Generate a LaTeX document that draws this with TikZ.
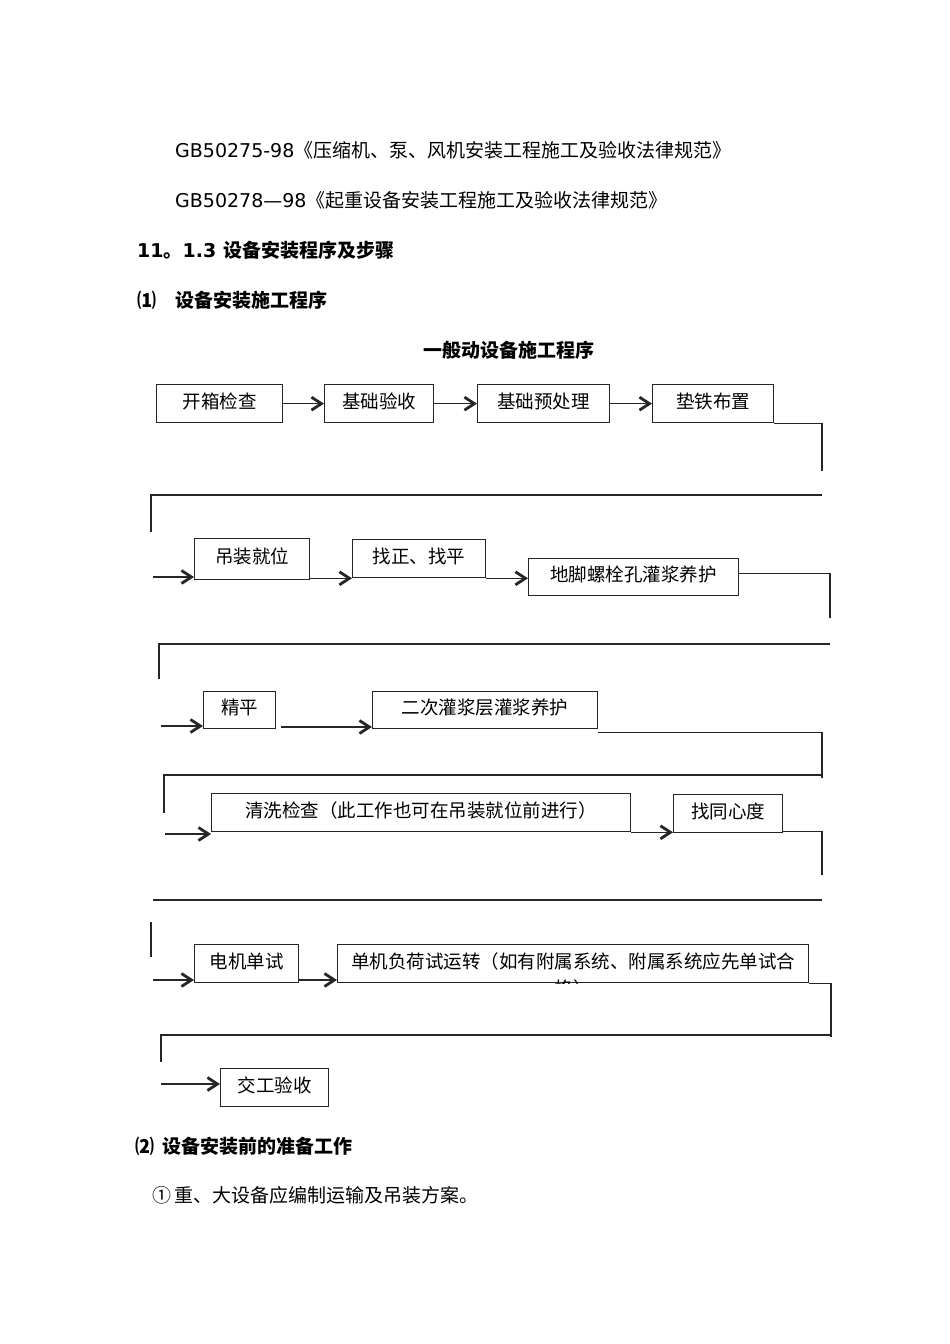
\documentclass[tikz,border=0pt]{standalone}
\usepackage{fontspec}
\setmainfont{DejaVu Sans}
\newfontfamily\cjk{Noto Sans CJK SC}
\newfontfamily\dv{DejaVu Sans}
\usetikzlibrary{arrows.meta,calc}
\tikzset{
  box/.style={draw=black!85, line width=1.3pt, anchor=north west, inner sep=0pt,
    text height=15.5pt, text depth=6pt, font=\cjk\fontsize{18.5}{22}\selectfont},
  conn/.style={line width=1.3pt, draw=black!85},
  arr/.style={conn, -{Straight Barb[length=10pt,width=13pt,line width=2.8pt]}},
  body/.style={anchor=base west, inner sep=0pt, font=\fontsize{19}{23}\selectfont},
}
\begin{document}
\begin{tikzpicture}[x=1pt,y=-1pt]
\useasboundingbox (0,0) rectangle (950,1344);
\fill[white] (0,0) rectangle (950,1344);

% ---- body text ----
\node[body] (l1) at (175,157) {{\dv GB50275-98}{\cjk《压缩机、泵、风机安装工程施工及验收法律规范》}};
\node[body] (l2) at (175,207) {{\dv GB50278—98}{\cjk《起重设备安装工程施工及验收法律规范》}};
\node[body] (h1n) at (137,257) {{\dv\bfseries 11}{\cjk\bfseries 。}{\dv\bfseries 1.3}};
\node[body] (h1t) at (223,257) {\cjk\bfseries 设备安装程序及步骤};
\node[body] (h2n) at (137,307) {\cjk\bfseries ⑴};
\node[body] (h2t) at (175,307) {\cjk\bfseries 设备安装施工程序};
\node[body] (title) at (423,357) {\cjk\bfseries 一般动设备施工程序};
\node[body] (h3n) at (135,1153) {\cjk\bfseries ⑵};
\node[body] (h3t) at (162,1153) {\cjk\bfseries 设备安装前的准备工作};
\node[body] (i1n) at (152,1202) {\cjk ①};
\node[body] (i1t) at (174,1202) {\cjk 重、大设备应编制运输及吊装方案。};

% ---- boxes ----
\node[box, minimum width=126pt, minimum height=38pt] (b1) at (156,384) {开箱检查};
\node[box, minimum width=109pt, minimum height=38pt] (b2) at (324,384) {基础验收};
\node[box, minimum width=132pt, minimum height=38pt] (b3) at (477,384) {基础预处理};
\node[box, minimum width=121pt, minimum height=38pt] (b4) at (652,384) {垫铁布置};
\node[box, minimum width=115pt, minimum height=41pt] (b5) at (194,538) {吊装就位};
\node[box, minimum width=133pt, minimum height=38pt] (b6) at (352,539) {找正、找平};
\node[box, minimum width=210pt, minimum height=37pt] (b7) at (528,558) {地脚螺栓孔灌浆养护};
\node[box, minimum width=72pt, minimum height=37pt] (b8) at (203,691) {精平};
\node[box, minimum width=225pt, minimum height=37pt] (b9) at (372,691) {二次灌浆层灌浆养护};
\node[box, minimum width=419pt, minimum height=38pt] (b10) at (211,793) {清洗检查（此工作也可在吊装就位前进行）};
\node[box, minimum width=109pt, minimum height=38pt] (b11) at (673,794) {找同心度};
\node[box, minimum width=104pt, minimum height=38pt] (b12) at (194,944) {电机单试};
\node[box, minimum width=471pt, minimum height=38pt] (b13) at (337,944) {单机负荷试运转（如有附属系统、附属系统应先单试合};
\begin{scope}
  \clip (b13.north west) rectangle (b13.south east);
  \node[anchor=north, inner sep=0pt, font=\cjk\fontsize{18.5}{22}\selectfont] (b13x) at ($(b13.south)+(0,-4)$) {格）};
\end{scope}
\node[box, minimum width=108pt, minimum height=38pt] (b14) at (220,1068) {交工验收};

% ---- free ends ----
\coordinate (t1) at (822,471);
\coordinate (h1r) at (822,495); \coordinate (h1l) at (151,495); \coordinate (v1b) at (151,532);
\coordinate (s2) at (153,577);
\coordinate (t2) at (830,618);
\coordinate (h2r) at (830,644); \coordinate (h2l) at (159,644); \coordinate (v2b) at (159,679);
\coordinate (s3) at (161,726); \coordinate (s3b) at (281,727);
\coordinate (t3) at (822,778);
\coordinate (h3r) at (822,775); \coordinate (h3l) at (164,775); \coordinate (v3b) at (164,813);
\coordinate (s4) at (165,834);
\coordinate (t4) at (822,875);
\coordinate (h4r) at (822,900); \coordinate (h4l) at (153,900);
\coordinate (v4t) at (151,922); \coordinate (v4b) at (151,957);
\coordinate (s5) at (153,980);
\coordinate (t5) at (831,1037);
\coordinate (h5r) at (831,1035); \coordinate (h5l) at (161,1035); \coordinate (v5b) at (161,1062);
\coordinate (s6) at (161,1084);

% ---- connectors ----
\draw[arr] (b1.east) -- (b2.west);
\draw[arr] (b2.east) -- (b3.west);
\draw[arr] (b3.east) -- (b4.west);
\draw[conn] (b4.south east) -| (t1);
\draw[conn] (h1r) -- (h1l) -- (v1b);

\draw[arr] (s2) -- (s2 -| b5.west);
\draw[arr] (b5.east |- b6.south) -- (b6.south west);
\draw[arr] (b6.south east) -- (b6.south east -| b7.west);
\draw[conn] ($(b7.east)+(0,-3.5)$) -| (t2);
\draw[conn] (h2r) -- (h2l) -- (v2b);

\draw[arr] (s3) -- (s3 -| b8.west);
\draw[arr] (s3b) -- (s3b -| b9.west);
\draw[conn] ($(b9.south east)+(0,3)$) -| (t3);
\draw[conn] (h3r) -- (h3l) -- (v3b);

\draw[arr] (s4) -- (s4 -| b10.west);
\draw[arr] (b10.south east) -- (b10.south east -| b11.west);
\draw[conn] ($(b11.south east)+(0,-2)$) -| (t4);
\draw[conn] (h4r) -- (h4l);
\draw[conn] (v4t) -- (v4b);

\draw[arr] (s5) -- (s5 -| b12.west);
\draw[arr] (b12.east |- s5) -- (s5 -| b13.west);
\draw[conn] (b13.south east) -| (t5);
\draw[conn] (h5r) -- (h5l) -- (v5b);

\draw[arr] (s6) -- (s6 -| b14.west);
\end{tikzpicture}
\end{document}
